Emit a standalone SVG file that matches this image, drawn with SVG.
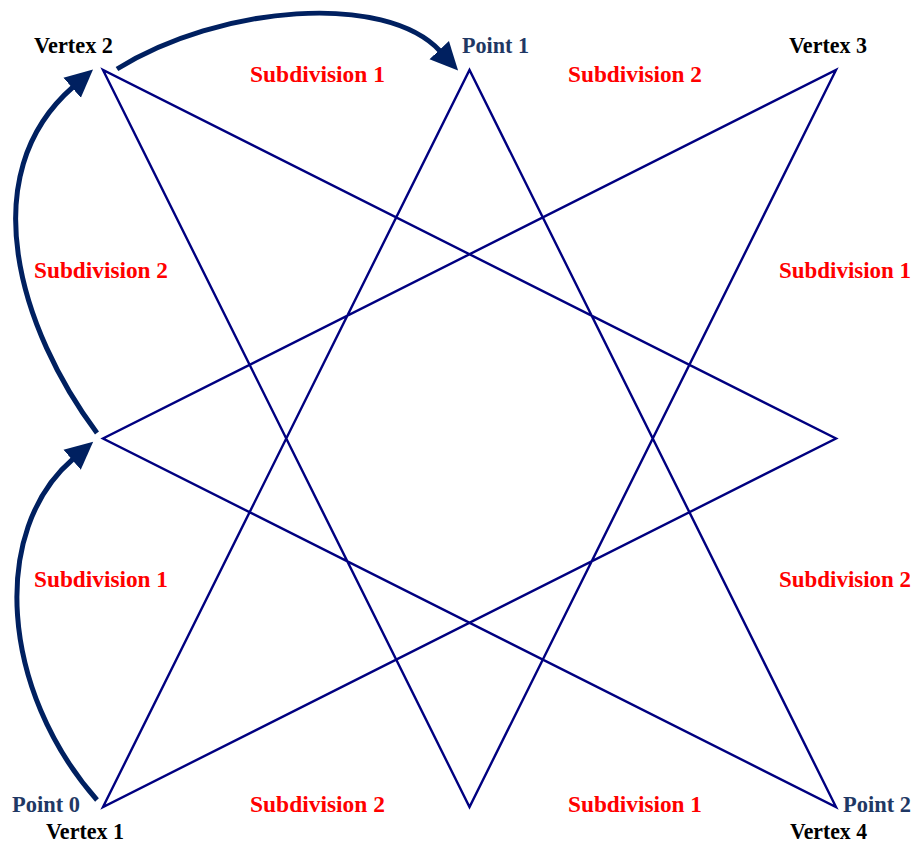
<svg xmlns="http://www.w3.org/2000/svg" width="918" height="844" viewBox="0 0 918 844">
  <style>
    text { font-family: "Liberation Serif", "DejaVu Serif", serif; font-weight: bold; font-size: 22.5px; }
    .vertex { fill: #000000; }
    .point { fill: #1F3864; }
    .sub { fill: #FF0000; }
    .star { fill: none; stroke: #000080; stroke-width: 2.4; stroke-linejoin: miter; }
    .arrow { fill: none; stroke: #002060; stroke-width: 5; }
  </style>
  <defs>
    <marker id="ah" markerUnits="userSpaceOnUse" markerWidth="30" markerHeight="30" viewBox="0 -12 26 24" refX="1" refY="0" orient="auto">
      <path d="M0,-11.5 L24,0 L0,11.5 Z" fill="#002060"/>
    </marker>
  </defs>
  <rect width="918" height="844" fill="#ffffff"/>

  <g id="star">
    <polygon class="star" points="103,807 469.5,70 836,807 103,438.5 836,70 469.5,807 103,70 836,438.5"/>
  </g>

  <g id="connectors">
    <path class="arrow" d="M97,800 C0,690 -10,530 73,459" marker-end="url(#ah)"/>
    <path class="arrow" d="M97,433 C20,330 -28,175 73,87" marker-end="url(#ah)"/>
    <path class="arrow" d="M117,69 C220,5 385,-8 440,51" marker-end="url(#ah)"/>
  </g>

  <g id="vertex2"><text class="vertex" x="34" y="53" textLength="79" lengthAdjust="spacingAndGlyphs">Vertex 2</text></g>
  <g id="point1"><text class="point" x="462" y="53" textLength="67" lengthAdjust="spacingAndGlyphs">Point 1</text></g>
  <g id="vertex3"><text class="vertex" x="789" y="53" textLength="78" lengthAdjust="spacingAndGlyphs">Vertex 3</text></g>
  <g id="point0"><text class="point" x="12" y="812" textLength="68" lengthAdjust="spacingAndGlyphs">Point 0</text></g>
  <g id="vertex1"><text class="vertex" x="46" y="839" textLength="78" lengthAdjust="spacingAndGlyphs">Vertex 1</text></g>
  <g id="point2"><text class="point" x="843" y="812" textLength="68" lengthAdjust="spacingAndGlyphs">Point 2</text></g>
  <g id="vertex4"><text class="vertex" x="790" y="839" textLength="77" lengthAdjust="spacingAndGlyphs">Vertex 4</text></g>

  <g id="labels">
    <text class="sub" x="250" y="82" textLength="135" lengthAdjust="spacingAndGlyphs">Subdivision 1</text>
    <text class="sub" x="568" y="82" textLength="134" lengthAdjust="spacingAndGlyphs">Subdivision 2</text>
    <text class="sub" x="34" y="278" textLength="134" lengthAdjust="spacingAndGlyphs">Subdivision 2</text>
    <text class="sub" x="779" y="278" textLength="132" lengthAdjust="spacingAndGlyphs">Subdivision 1</text>
    <text class="sub" x="34" y="587" textLength="134" lengthAdjust="spacingAndGlyphs">Subdivision 1</text>
    <text class="sub" x="779" y="587" textLength="132" lengthAdjust="spacingAndGlyphs">Subdivision 2</text>
    <text class="sub" x="250" y="812" textLength="135" lengthAdjust="spacingAndGlyphs">Subdivision 2</text>
    <text class="sub" x="568" y="812" textLength="134" lengthAdjust="spacingAndGlyphs">Subdivision 1</text>
  </g>
</svg>
